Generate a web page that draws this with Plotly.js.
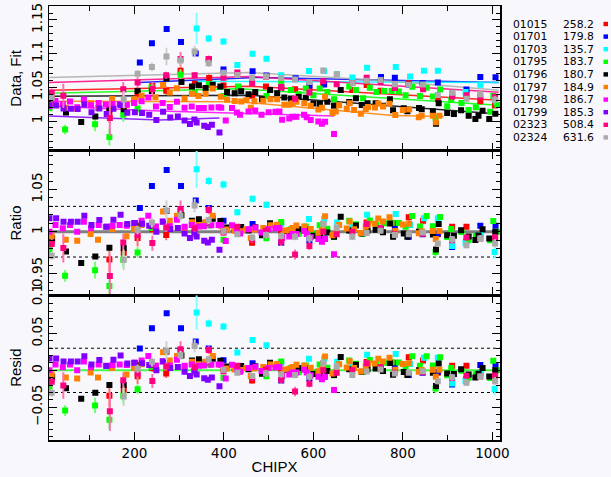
<!DOCTYPE html>
<html><head><meta charset="utf-8">
<script src="https://cdn.plot.ly/plotly-3.0.1.min.js"></script>
<style>html,body{margin:0;padding:0;background:#f8f8fc}</style>
</head><body>
<div id="chart" style="width:611px;height:477px"></div>
<script>
// ---------------- DATA ----------------
const obsIds  = ['01015','01701','01703','01795','01796','01797','01798','01799','02323','02324'];
const obsVals = ['258.2','179.8','135.7','183.7','180.7','184.9','186.7','185.3','508.4','631.6'];

// 01015
const s01015_x = [15,144,176,207,240,271,303,335,367,399,432,463,494,528,559,591,622,687,719,750,782,813,845,878,910,942,973,1006];
const s01015_ratio = [0.988,0.967,0.975,0.9925,1.003,0.996,1.024,1.005,1.013,1.002,0.999,0.987,1.001,1.000,0.9995,1.003,1.009,1.003,1.011,1.004,1.010,1.017,1.013,0.997,1.006,1.006,0.997,0.992];
const s01015_err = [0.004,0.015,0.012,0.01,0.005,0.006,0.006,0.004,0.005,0.004,0.003,0.004,0.003,0.003,0.003,0.003,0.004,0.003,0.003,0.003,0.003,0.004,0.003,0.004,0.003,0.003,0.003,0.004];
const s01015_fitX = [9.4,457,1014];
const s01015_fitY = [1.0456,1.0515,1.0309];

// 01701
const s01701_x = [212,239,272,304,337,366,399,464,495,528,560,591,624,751,782,813,844,878,910,942,973,1007];
const s01701_ratio = [1.028,1.054,1.073,1.054,1.037,1.028,1.013,1.009,1.003,0.987,1.000,0.990,0.992,1.004,1.0035,0.994,0.997,0.998,0.982,0.989,1.007,1.007];
const s01701_err = 0.003;
const s01701_fitX = [210,479,1014];
const s01701_fitY = [1.0573,1.0647,1.0573];

// 01703
const s01703_x = [339,366,399,430,464,495,528,590,624,653,687,720,784,816,847,878,910,940,973,1005];
const s01703_ratio = [1.074,1.060,1.056,1.023,1.039,1.032,1.009,1.015,1.015,1.011,1.006,1.020,1.021,1.008,1.016,1.016,0.983,0.9865,0.9965,0.976];
const s01703_err = [0.022,0.005,0.005,0.004,0.004,0.004,0.003,0.003,0.003,0.003,0.003,0.003,0.003,0.003,0.003,0.003,0.003,0.003,0.004,0.008];
const s01703_fitX = [339,1014];
const s01703_fitY = [1.0588,1.0573];

// 01795
const s01795_x = [10,45,112,144,175,207,238,303,334.5,366,399,432,495,528,550,567,583,600,614,631,646,680,695,711,726,741,758,775,791,806,821,838,853,867,873,883,899,908,931,947,963,995,1002,1011];
const s01795_ratio = [0.9786,0.9477,0.9544,0.9357,0.9669,0.9755,1.0047,1.0217,0.997,1.0073,0.9904,1.0031,0.9922,1.0116,1.003,0.9976,1.0062,0.9975,1.0075,1.0034,0.9937,1.013,1.0087,0.9977,1.0134,1.0078,1.0099,1.0106,1.0104,1.0058,1.0186,1.0061,1.0186,1.0065,0.976,1.0173,0.9937,1.0032,0.9996,0.9903,0.9948,0.9898,1.0127,1.000];
const s01795_err = [0.004,0.007,0.01,0.012,0.01,0.006,0.004,0.008,0.004,0.003,0.003,0.003,0.003,0.003,0.003,0.003,0.003,0.003,0.003,0.003,0.003,0.003,0.003,0.003,0.003,0.003,0.003,0.003,0.003,0.003,0.003,0.003,0.003,0.003,0.006,0.003,0.003,0.003,0.003,0.003,0.003,0.003,0.003,0.003];
const s01795_fitX = [9.4,435,1014];
const s01795_fitY = [1.0412,1.0478,1.0235];

// 01796
const s01796_x = [16,47,81,112.5,144,176,207,239,271.5,305,328.5,344,359,375,392,407,424,438.5,455,470,485,503,519,535,550,567,583,600,614.5,631,646,661,680,695,708,721,739,755.5,771,778,802,810,836,842,867,874,880,899,914,930,947,962,969,978,993,1006.5];
const s01796_ratio = [0.9918,0.9765,0.963,0.9707,0.981,0.9808,1.007,1.0069,1.0245,1.0194,1.0129,1.0146,1.0107,1.0153,1.0126,1.0049,1.003,1.0057,1.0014,1.0054,0.9957,1.0099,1.0059,1.0006,0.9999,1.003,1.0024,0.9951,0.9949,0.999,0.994,1.0176,1.0013,1.0073,0.998,1.0014,1.0023,0.9993,1.0096,0.9941,0.9979,0.9939,1.000,0.9987,0.9967,0.979,1.0092,0.9959,0.9951,1.0016,0.9943,0.9903,0.9954,1.003,0.9918,1.000];
const s01796_err = 0.003;
const s01796_fitX = [9.4,457,1014];
const s01796_fitY = [1.0368,1.0382,1.0103];

// 01797
const s01797_x = [15,46.5,72,102,118.5,150,182,199,216,247,264,279,295,312,328.5,343,359,375,393,407,424,438.5,450,460,468,488,504,519,535,546,553.5,562,579.5,594,611,619,626,642.5,650,657.5,674.5,681,691,706,717,722,737.5,745,755.5,770,783,800,814,835.5,842,867,873.5,881.5];
const s01797_ratio = [0.9945,0.9905,0.9893,0.9973,0.9905,1.0032,0.9945,1.0032,1.008,1.006,1.0238,1.0131,1.019,1.0044,1.0112,1.008,1.0112,1.019,1.007,1.0026,1.0011,1.0004,1.003,0.9925,1.0025,1.0044,1.0076,1.0083,1.0013,1.002,1.0045,1.0074,1.0063,1.0033,0.9988,1.0018,1.0184,0.9957,0.9982,1.008,1.0038,1.0121,1.003,0.9985,1.006,1.0093,1.0093,1.0157,1.012,1.017,1.0007,1.0086,1.0095,0.9982,1.0005,1.0008,0.9914,1.0009];
const s01797_err = 0.0025;
const s01797_fitX = [9.4,435,778,891];
const s01797_fitY = [1.0294,1.0287,1.0081,1.0066];

// 01798
const s01798_x = [10,23.5,40,56,72,87,103,120,136,151,167,183,199,216,231,248,263,279,295,312,328,344,355,372,388,394,404,418,429,436,455,470,484,500,515,524,530,546,553,562,579,585,594,611,619,626,646];
const s01798_ratio = [1.000,1.0079,1.004,1.0079,1.000,1.0119,1.004,1.0079,1.006,1.0071,1.0079,1.0071,1.0103,1.0131,1.019,1.0063,1.012,1.0065,1.0143,1.006,1.008,1.0063,1.0065,1.0075,1.008,1.0075,0.989,1.0075,1.0013,0.998,1.003,1.005,0.999,1.003,1.004,1.0044,0.9925,0.9944,0.9972,0.9972,1.0008,0.9972,0.9933,0.9913,0.9881,0.9913,0.9734];
const s01798_err = 0.002;
const s01798_fitX = [9.4,256,646];
const s01798_fitY = [1.0221,1.0147,1.0074];

// 01799
const s01799_x = [10,25,41.5,58,73,88,104,121.5,138,153,169,184,201,217,233,249,264,280,297,312,324,334,339,356,364,373,390];
const s01799_ratio = [1.0159,1.0159,1.0119,1.0119,1.0119,1.019,1.0079,1.0139,1.006,1.0143,1.0202,1.0091,1.0103,1.0095,1.0071,1.000,1.0119,1.0032,1.0044,0.998,0.9925,0.9992,0.9944,0.9893,0.9873,0.9905,0.9786];
const s01799_err = 0.002;
const s01799_fitX = [9.4,256,390];
const s01799_fitY = [1.0074,1.0015,1.0044];

// 02323
const s02323_x = [15,41,145,175,207,240,271,303,334.5,366,399,430,463,494,528,559,591,622,652,687,719,750,782,845,910,942,973,1006];
const s02323_ratio = [0.9853,0.9806,0.9476,0.9873,0.996,0.9865,1.005,1.027,1.004,1.0258,0.999,1.006,0.991,1.001,0.988,0.973,0.983,1.000,0.997,1.000,1.009,1.004,0.997,0.9976,0.990,0.993,0.992,0.9933];
const s02323_err = [0.006,0.017,0.025,0.01,0.008,0.009,0.005,0.01,0.004,0.005,0.004,0.003,0.004,0.003,0.005,0.006,0.005,0.003,0.003,0.003,0.003,0.003,0.003,0.003,0.004,0.003,0.003,0.003];
const s02323_fitX = [9.4,457,764,1014];
const s02323_fitY = [1.0573,1.0662,1.0529,1.0426];

// 02324
const s02324_x = [15,176,207,239,271.5,303,334.5,366,399,430,463,494,528,559,591,622,652,687,719,750,782,813,845,878,910,942,973,1006];
const s02324_ratio = [0.9714,0.9667,1.002,1.011,1.025,1.019,1.031,1.014,1.0005,0.997,0.993,0.996,0.995,0.994,0.992,1.009,1.005,0.994,0.9985,1.001,0.996,0.997,0.999,0.986,0.991,0.984,0.992,0.986];
const s02324_err = [0.005,0.012,0.005,0.006,0.012,0.006,0.008,0.005,0.004,0.003,0.004,0.004,0.004,0.004,0.004,0.004,0.004,0.004,0.003,0.003,0.003,0.003,0.003,0.004,0.004,0.004,0.004,0.005];
const s02324_fitX = [9.4,457,778,1014];
const s02324_fitY = [1.0647,1.072,1.0588,1.0456];

// ---------------- BUILD ----------------
const series = [
  {x:s01015_x, r:s01015_ratio, e:s01015_err, fx:s01015_fitX, fy:s01015_fitY, c:'#ff0000', ec:'#ff7070'},
  {x:s01701_x, r:s01701_ratio, e:s01701_err, fx:s01701_fitX, fy:s01701_fitY, c:'#0000ff', ec:'#6060ff'},
  {x:s01703_x, r:s01703_ratio, e:s01703_err, fx:s01703_fitX, fy:s01703_fitY, c:'#00ffff', ec:'#80ffff'},
  {x:s01795_x, r:s01795_ratio, e:s01795_err, fx:s01795_fitX, fy:s01795_fitY, c:'#00ff00', ec:'#70ff70'},
  {x:s01796_x, r:s01796_ratio, e:s01796_err, fx:s01796_fitX, fy:s01796_fitY, c:'#000000', ec:'#606060'},
  {x:s01797_x, r:s01797_ratio, e:s01797_err, fx:s01797_fitX, fy:s01797_fitY, c:'#ff8000', ec:'#ffb070'},
  {x:s01798_x, r:s01798_ratio, e:s01798_err, fx:s01798_fitX, fy:s01798_fitY, c:'#ff00ff', ec:'#ff80ff'},
  {x:s01799_x, r:s01799_ratio, e:s01799_err, fx:s01799_fitX, fy:s01799_fitY, c:'#8000ff', ec:'#b070ff'},
  {x:s02323_x, r:s02323_ratio, e:s02323_err, fx:s02323_fitX, fy:s02323_fitY, c:'#ff0080', ec:'#ff70b0'},
  {x:s02324_x, r:s02324_ratio, e:s02324_err, fx:s02324_fitX, fy:s02324_fitY, c:'#aaaaaa', ec:'#d0d0d0'}
];

function fitAt(fx, fy, x) {
  let i = 0;
  while (i < fx.length - 2 && x > fx[i+1]) i++;
  const t = (x - fx[i]) / (fx[i+1] - fx[i]);
  return fy[i] + t * (fy[i+1] - fy[i]);
}

const traces = [];
series.forEach(s => {
  traces.push({x:s.fx, y:s.fy, xaxis:'x', yaxis:'y', mode:'lines',
    line:{color:s.c, width:1.5}, opacity:0.85, hoverinfo:'skip', showlegend:false});
});
series.forEach(s => {
  const fit = s.x.map(v => fitAt(s.fx, s.fy, v));
  const errR = Array.isArray(s.e) ? s.e : s.x.map(() => s.e);
  const data = s.r.map((r,i) => r * fit[i]);
  const resid = data.map((d,i) => d - fit[i]);
  const errD = errR.map((e,i) => e * fit[i]);
  const mk = {symbol:'square', size:6, color:s.c, line:{width:0}};
  const eb = (arr) => ({type:'data', array:arr, visible:true, color:s.ec, thickness:2, width:0});
  traces.push({x:s.x, y:data, xaxis:'x', yaxis:'y', mode:'markers', marker:mk, error_y:eb(errD), showlegend:false});
  traces.push({x:s.x, y:s.r, xaxis:'x2', yaxis:'y2', mode:'markers', marker:mk, error_y:eb(errR), showlegend:false});
  traces.push({x:s.x, y:resid, xaxis:'x3', yaxis:'y3', mode:'markers', marker:mk, error_y:eb(errD), showlegend:false});
});

// ---------------- LAYOUT ----------------
const TFONT = 'DejaVu Sans, sans-serif';
const FONT = 'Liberation Sans, Arial, sans-serif';
const L = 49, R = 500, T = 6, B = 440;
const px2x = p => (p - L) / (R - L);
const py2y = p => (B - p) / (B - T);

const xBase = {range:[9,1017], ticks:'inside', ticklen:8, tickwidth:1, tickcolor:'#000',
  dtick:200, tick0:0, minor:{dtick:100, ticks:'inside', ticklen:5, tickcolor:'#000'},
  showline:true, linecolor:'#000', linewidth:1.5, mirror:'allticks', showgrid:false, zeroline:false,
  tickfont:{family:TFONT, size:13.5, color:'#000'}};
const yBase = {ticks:'inside', ticklen:8, tickwidth:1, tickcolor:'#000',
  minor:{dtick:0.01, ticks:'inside', ticklen:4, tickcolor:'#000'},
  showline:true, linecolor:'#000', linewidth:1.5, mirror:'allticks', showgrid:false, zeroline:false,
  tickangle:-90, tickfont:{family:TFONT, size:13.5, color:'#000'}};

const h = 1/3;
const layout = {
  width:611, height:477,
  margin:{l:L, r:611-R, t:T, b:477-B},
  paper_bgcolor:'#f8f8fc', plot_bgcolor:'#f8f8fc',
  font:{family:FONT, size:14, color:'#000'},
  showlegend:false,
  xaxis: Object.assign({}, xBase, {anchor:'y', showticklabels:false}),
  xaxis2: Object.assign({}, xBase, {anchor:'y2', showticklabels:false, matches:'x'}),
  xaxis3: Object.assign({}, xBase, {anchor:'y3', showticklabels:true,
     title:{text:'CHIPX', font:{family:FONT, size:15, color:'#000'}, standoff:2}}),
  yaxis: Object.assign({}, yBase, {domain:[2*h,1], anchor:'x', range:[0.956,1.1706],
     tickvals:[1,1.05,1.1,1.15], ticktext:['1','1.05','1.1','1.15'],
     title:{text:'Data, Fit', font:{family:FONT, size:15, color:'#000'}, standoff:4}}),
  yaxis2: Object.assign({}, yBase, {domain:[h,2*h], anchor:'x2', range:[0.9246,1.096],
     tickvals:[0.95,1,1.05], ticktext:['0.95','1','1.05'],
     title:{text:'Ratio', font:{family:FONT, size:15, color:'#000'}, standoff:4}}),
  yaxis3: Object.assign({}, yBase, {domain:[0,h], anchor:'x3', range:[-0.0944,0.1017],
     tickvals:[-0.05,0,0.05,0.1], ticktext:['\u22120.05','0','0.05','0.1'],
     title:{text:'Resid', font:{family:FONT, size:15, color:'#000'}, standoff:4}}),
  shapes:[
    {type:'line', xref:'paper', x0:0, x1:1, yref:'y2', y0:1, y1:1, line:{color:'#7f7f7f', width:3}, layer:'below'},
    {type:'line', xref:'paper', x0:0, x1:1, yref:'y2', y0:1.03, y1:1.03, line:{color:'#000', width:1, dash:'dot'}, layer:'below'},
    {type:'line', xref:'paper', x0:0, x1:1, yref:'y2', y0:0.97, y1:0.97, line:{color:'#000', width:1, dash:'dot'}, layer:'below'},
    {type:'line', xref:'paper', x0:0, x1:1, yref:'y3', y0:0, y1:0, line:{color:'#44ff44', width:2}, layer:'below'},
    {type:'line', xref:'paper', x0:0, x1:1, yref:'y3', y0:0.03, y1:0.03, line:{color:'#000', width:1, dash:'dot'}, layer:'below'},
    {type:'line', xref:'paper', x0:0, x1:1, yref:'y3', y0:-0.03, y1:-0.03, line:{color:'#000', width:1, dash:'dot'}, layer:'below'}
  ],
  annotations:[]
};

obsIds.forEach((id, i) => {
  const py = 24 + 12.6 * i;
  layout.annotations.push({xref:'paper', yref:'paper', x:px2x(530), y:py2y(py), text:id,
    xanchor:'center', yanchor:'middle', showarrow:false, borderpad:0,
    font:{family:TFONT, size:10.8, color:'#000'}});
  layout.annotations.push({xref:'paper', yref:'paper', x:px2x(578), y:py2y(py), text:obsVals[i],
    xanchor:'center', yanchor:'middle', showarrow:false, borderpad:0,
    font:{family:TFONT, size:10.8, color:'#000'}});
  layout.shapes.push({type:'rect', xref:'paper', yref:'paper',
    x0:px2x(603.5), x1:px2x(608), y0:py2y(py+2.2), y1:py2y(py-2.2),
    fillcolor:series[i].c, line:{width:0}});
});

Plotly.newPlot('chart', traces, layout, {staticPlot:true, displayModeBar:false});
</script>
</body></html>
